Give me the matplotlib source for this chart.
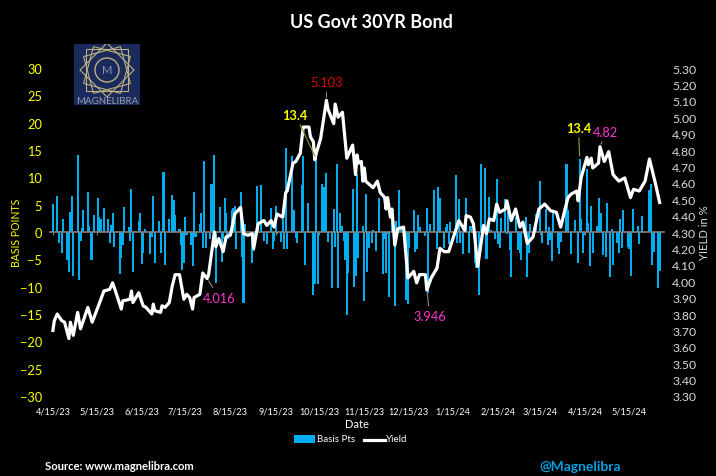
import matplotlib
matplotlib.use("Agg")
import matplotlib.pyplot as plt
import matplotlib.dates as mdates
import pandas as pd
from matplotlib.patches import Rectangle, Circle, Polygon
import numpy as np

plt.rcParams['font.family'] = ['Lato', 'DejaVu Sans']

start = pd.Timestamp('2023-04-15')
tick_dates = ['2023-04-15','2023-05-15','2023-06-15','2023-07-15','2023-08-15','2023-09-15','2023-10-15',
              '2023-11-15','2023-12-15','2024-01-15','2024-02-15','2024-03-15','2024-04-15','2024-05-15']
tick_labels = ['4/15/23','5/15/23','6/15/23','7/15/23','8/15/23','9/15/23','10/15/23',
               '11/15/23','12/15/23','1/15/24','2/15/24','3/15/24','4/15/24','5/15/24']

bar_pairs_text = """
0 5.2;3 6.6;4 -2;5 .2;6 -3.8;7 2.3;10 -5.2;11 -7.4;12 3.7;13 6.5;14 -8;17 14;18 -8.8;19 -1.7;20 .8;21 4.1;24 7.4;25 1.1;26 -5.2;27 -5.2;28 3.2;31 6.3;32 2.7;33 2.4;35 4.3;38 2.3;39 -2;40 1.2;41 3.5;42 -2.7;46 -7.6;47 -4.7;48 -2.3;49 4.6;52 1;53 -1.7;54 7.9;55 -7.3;56 .2;59 2;60 3.4;61 -5.9;62 -3.8;63 .6;67 -4;68 -1;69 6.6;70 -5.6;
73 2.1;74 -3.8;76 10.9;77 -6.1;80 2.3;82 6.8;83 5.9;84 3.2;87 .6;88 -2.3;89 -7;90 -5.6;91 2.8;92 -.5;95 -2.3;96 -6.3;97 7.4;98 -.9;101 1.5;102 3.5;103 -3;104 13;105 -3;108 -1.2;109 8.8;110 5.7;111 14.1;112 -9.3;115 4.5;116 -5.4;117 -1.2;118 6.3;119 3.5;120 -1.2;123 4.1;124 4.3;125 4.8;126 -3.2;129 7.4;130 -4.5;131 -12.9;132 1.5;137 -5.6;138 -3.4;140 8.5;141 .9;
143 8.6;145 -1.6;147 -2.2;150 4.4;151 -3.1;152 -1.6;153 4.8;154 -.4;157 -1.8;158 2.4;159 -3.1;160 15.4;161 -3.1;164 13.9;165 3.3;166 4;167 -1.1;168 -2;171 8.6;172 13.9;173 -6;175 5.3;179 -11.5;180 -9.5;181 13.4;182 -9.5;183 -.6;185 8.8;186 8.2;187 4.4;188 10.8;189 -1.8;192 -10.2;193 4.2;194 -2.7;195 12.4;196 -10.2;197 3.5;199 1.1;200 -1.6;201 -5.2;202 -15.2;203 -7.5;206 7.9;207 -10;208 -8;209 10.6;210 -4.8;213 1.1;214 -12.6;
215 7;216 -7.3;217 -2.9;219 -2;220 .4;222 -3.5;224 6.2;227 -7.7;228 -1.3;229 -7.5;230 -.4;231 -11.9;233 4.2;235 -13.5;236 2;238 7.7;239 .9;243 -12.4;244 -13.2;245 -3;248 4;249 -3.7;250 -3.1;251 3.1;252 1;256 -.7;257 4.3;258 -11.2;259 1.5;262 7.7;264 -3.1;265 8.2;266 6.2;269 -2.9;270 1;271 1.5;272 -2.2;273 1.8;277 10.4;278 -2;279 6;280 -2;282 -4;284 6.2;286 -3.8;287 1.1;
290 -5.7;291 -6.5;293 -11.6;294 12.4;297 11.7;298 -4.9;300 6.4;301 .4;304 -1.3;305 9.7;306 -2.2;307 -2.9;308 2.6;311 6;312 -.4;313 3.9;314 -3.3;315 -8.2;318 2.7;320 -3.3;321 -3.8;322 -5.1;325 2.7;326 -8.2;327 -3.8;328 1.5;332 3.3;335 9.3;336 -2;339 4.2;340 -2.4;341 .9;342 -1.5;343 -5.3;344 3.6;347 -2.9;348 -4;349 -1.9;353 12.4;354 4;
356 -4;359 2.2;361 -5.7;362 13.4;363 2.4;364 -3.8;366 -.5;367 11.5;368 1.6;369 -6.2;370 4.7;371 -3.8;374 1.1;375 6.2;377 3.5;378 -4.2;380 -4.6;381 5.3;383 -8.2;384 .5;385 -6;388 -2;389 -3.8;390 2.4;391 -3;392 4;395 -2.7;396 -3.1;397 -8;398 .2;399 4.2;402 1.1;403 -2.2;405 2.9;406 -.2;410 7.7;411 8.8;412 -6;413 -3.7;416 -10.2;417 -7.1
"""
yield_pairs_text = """
0 3.70;1 3.76;3 3.80;6 3.76;8 3.75;11 3.65;12 3.75;14 3.67;17 3.81;19 3.71;24 3.84;27 3.75;33 3.89;35 3.94;39 3.95;41 3.99;43 3.94;47 3.83;48 3.88;53 3.89;54 3.94;55 3.87;59 3.93;62 3.85;64 3.84;68 3.80;69 3.86;
70 3.82;74 3.81;75 3.85;77 3.84;80 3.87;82 3.97;84 4.04;87 4.04;90 3.89;92 3.92;94 3.90;96 3.83;97 3.90;101 3.92;103 4.05;106 4.016;107 4.04;111 4.30;112 4.21;114 4.26;117 4.18;119 4.27;122 4.28;125 4.41;129 4.45;131 4.29;134 4.28;137 4.29;138 4.20;141 4.35;
145 4.37;147 4.34;150 4.37;152 4.33;154 4.41;158 4.39;160 4.54;161 4.55;165 4.72;167 4.73;170 4.78;172 4.94;176 4.94;177 4.88;179 4.85;180 4.74;181 4.78;184 4.87;188 5.103;189 5.05;193 4.96;194 5.08;196 5.0;199 5.03;202 4.75;206 4.83;208 4.65;209 4.77;210 4.72;212 4.73;213 4.61;
214 4.69;215 4.61;220 4.57;223 4.61;225 4.54;228 4.51;229 4.44;230 4.51;232 4.39;233 4.44;235 4.22;237 4.32;241 4.33;244 4.02;248 4.06;250 3.99;252 4.04;256 4.04;257 3.946;260 4.02;264 4.08;266 4.20;269 4.18;272 4.18;279 4.37;283 4.31;284 4.40;287 4.39;
289 4.35;292 4.09;296 4.34;298 4.29;300 4.38;303 4.37;305 4.47;307 4.42;311 4.44;312 4.49;315 4.37;318 4.44;321 4.33;323 4.36;326 4.23;330 4.27;334 4.44;338 4.47;342 4.43;346 4.42;349 4.33;352 4.44;354 4.51;356 4.53;360 4.55;361 4.49;363 4.63;367 4.755;368 4.71;370 4.75;371 4.69;375 4.72;376 4.82;379 4.73;382 4.79;385 4.65;389 4.61;393 4.63;397 4.51;399 4.56;403 4.55;407 4.61;410 4.745;414 4.60;417 4.48
"""
def parse(t):
    p = [s.split() for s in t.replace('\n', '').split(';') if s.strip()]
    return [int(a) for a, _ in p], [float(b) for _, b in p]

bar_days, bar_vals = parse(bar_pairs_text)
yield_days, yield_vals = parse(yield_pairs_text)
bar_dates = [start + pd.Timedelta(days=d) for d in bar_days]
yield_dates = [start + pd.Timedelta(days=d) for d in yield_days]

W, H = 716, 477
fig = plt.figure(figsize=(W/100, H/100), dpi=100, facecolor='black')
L, R, T, B = 50, 664, 69, 397
ax = fig.add_axes([L/W, 1-B/H, (R-L)/W, (B-T)/H], facecolor='black')
ax.bar(bar_dates, bar_vals, width=1.4, color='#00AEEF', label='Basis Pts', linewidth=0, antialiased=False)
ax.set_ylim(-30, 30)
ax.set_xlim(start - pd.Timedelta(days=2), start + pd.Timedelta(days=420))
ax.set_yticks(range(-30, 31, 5))
ax.tick_params(axis='y', length=0, labelcolor='#FFFF00', labelsize=9.2, pad=5.8)
for s in ['top', 'left', 'right']:
    ax.spines[s].set_visible(False)
ax.spines['bottom'].set_position(('data', 0))
ax.spines['bottom'].set_color('#808080')
ax.spines['bottom'].set_linewidth(1.2)
ax.set_xticks([pd.Timestamp(d) for d in tick_dates])
ax.set_xticklabels(tick_labels)
ax.tick_params(axis='x', length=2, color='#808080', labelcolor='white', labelsize=6.6, pad=123.5)

ax2 = ax.twinx()
ax2.set_position(ax.get_position())
ax2.patch.set_visible(False)
ax2.plot(yield_dates, yield_vals, color='white', lw=2.3, solid_joinstyle='round', label='Yield')
ax2.set_ylim(3.30, 5.30)
ax2.set_yticks(np.round(np.arange(3.3, 5.31, 0.1), 1))
ax2.set_yticklabels([f'{v:.2f}' for v in np.arange(3.3, 5.31, 0.1)])
ax2.tick_params(axis='y', length=0, labelcolor='#D9D9D9', labelsize=8.8, pad=5.8)
for s in ax2.spines.values():
    s.set_visible(False)

# callouts, all tied to the data they describe
def call(axis, day, val, txt, color, off, bold=False, lc='#8C8C8C', size=9.2):
    x = mdates.date2num(start + pd.Timedelta(days=day))
    ax2.annotate(txt, xy=(x, val), xycoords=axis.transData, xytext=off, textcoords='offset pixels',
                 color=color, fontsize=size, fontweight='bold' if bold else 'normal', ha='center', va='center',
                 arrowprops=dict(arrowstyle='-', color=lc, lw=0.8, shrinkA=1, shrinkB=2), zorder=5)
call(ax2, 188, 5.103, '5.103', '#E00000', (0, 18))
call(ax2, 106, 4.016, '4.016', '#FF33CC', (12, -19))
call(ax2, 257, 3.946, '3.946', '#FF33CC', (3, -26))
call(ax2, 376, 4.82, '4.82', '#FF33CC', (6, 15))
call(ax, 181, 13.4, '13.4', '#FFFF00', (-21, 44), bold=True, lc='#7FA832')
call(ax, 362, 13.4, '13.4', '#FFFF00', (-1, 31), bold=True, lc='#7FA832')

def tx(x, y, s, **k):
    return fig.text(x/W, 1-y/H, s, **k)
tx(371, 22, 'US Govt 30YR Bond', color='white', fontsize=13, fontweight='bold', ha='center', va='center')
tx(16, 233, 'BASIS POINTS', color='#FFFF00', fontsize=7.6, rotation=90, ha='center', va='center')
tx(704, 233, 'YIELD in %', color='#D9D9D9', fontsize=8.2, rotation=90, ha='center', va='center')
tx(357, 425, 'Date', color='white', fontsize=8, ha='center', va='center')
tx(45, 467, 'Source: www.magnelibra.com', color='white', fontsize=8.1, fontweight='bold', ha='left', va='center')
tx(539, 467, '@Magnelibra', color='#00A0E0', fontsize=10, fontweight='bold', ha='left', va='center')

# legend
fig.add_artist(Rectangle((294/W, 1-444/H), 21/W, 8/H, transform=fig.transFigure, color='#00AEEF', lw=0))
tx(317, 440, 'Basis Pts', color='white', fontsize=7, ha='left', va='center')
fig.add_artist(plt.Line2D([364/W, 385/W], [1-441/H, 1-441/H], color='white', lw=2.3))
tx(386, 440, 'Yield', color='white', fontsize=7, ha='left', va='center')

# logo
lg = fig.add_axes([74/W, 1-106/H, 66/W, 61/H], facecolor='#1B2A5C')
lg.set_xlim(74, 140); lg.set_ylim(106, 45); lg.set_xticks([]); lg.set_yticks([])
for s in lg.spines.values():
    s.set_visible(False)
cx, cy, r = 107, 71, 27
gold = '#BDAF7E'
for a in [0, 30, 60]:
    ang = np.deg2rad(a + np.array([0, 90, 180, 270]))
    lg.add_patch(Polygon(np.c_[cx + r*np.cos(ang), cy + r*np.sin(ang)], fill=False, ec=gold, lw=0.8))
lg.add_patch(Rectangle((cx-21, cy-21), 42, 42, fill=False, ec=gold, lw=0.8))
lg.add_patch(Circle((cx, cy), 12, fill=True, fc='#1B2A5C', ec=gold, lw=1, zorder=3))
lg.text(cx, cy, 'M', color='#8E93A8', fontsize=8, ha='center', va='center', zorder=4)
lg.text(cx, 101.5, 'MAGNELIBRA', color='#9A9CA8', fontsize=7, ha='center', va='center')

fig.savefig('out.png', dpi=100, facecolor='black')
